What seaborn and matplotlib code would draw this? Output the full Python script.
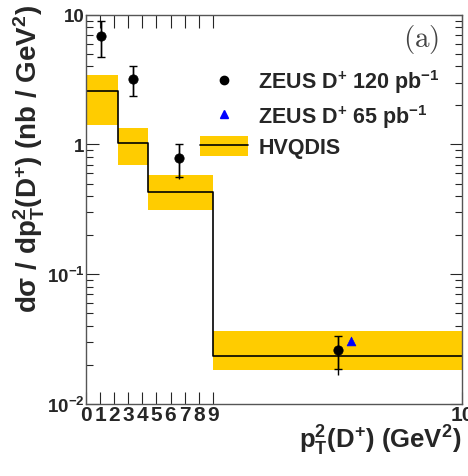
import matplotlib
matplotlib.use("Agg")
import matplotlib.pyplot as plt
from matplotlib.lines import Line2D
from matplotlib.patches import Patch
import seaborn as sns
import numpy as np

# bin edges (axis units: 0-9 linear, last edge drawn at the "10" tick)
bin_edges = [0, 2.25, 4.4, 9, 26.7]
x_ticks = [0, 1, 2, 3, 4, 5, 6, 7, 8, 9, 26.7]
x_ticklabels = ["0", "1", "2", "3", "4", "5", "6", "7", "8", "9", "10"]

# HVQDIS prediction
hvq_val = [2.58, 1.03, 0.431, 0.0236]
hvq_lo = [1.41, 0.70, 0.31, 0.0183]
hvq_hi = [3.43, 1.33, 0.58, 0.0362]

# ZEUS D+ 120 pb-1 (stat errors with caps, total errors without)
zeus_x = [1.06, 3.3, 6.6, 17.9]
zeus_y = [6.8, 3.2, 0.78, 0.0261]
zeus_lo = [4.7, 2.36, 0.56, 0.0186]
zeus_hi = [9.0, 4.05, 1.0, 0.0337]
zeus_tot_lo = [4.7, 2.36, 0.54, 0.0168]
zeus_tot_hi = [9.0, 4.05, 1.0, 0.0337]

# ZEUS D+ 65 pb-1
old_x = [18.8]
old_y = [0.0305]

sns.set_style("ticks")
plt.rcParams["font.family"] = ["Liberation Sans", "DejaVu Sans"]
plt.rcParams["font.weight"] = "bold"
plt.rcParams["mathtext.fontset"] = "custom"
plt.rcParams["mathtext.rm"] = "Liberation Sans:bold"
plt.rcParams["mathtext.bf"] = "Liberation Sans:bold"
plt.rcParams["mathtext.it"] = "Liberation Sans:bold"
plt.rcParams["mathtext.default"] = "bf"

fig = plt.figure(figsize=(4.68, 4.77), dpi=100)
ax = fig.add_axes([0.184, 0.151, 0.803, 0.816])

gold = "#ffcc00"
ax.fill_between(bin_edges, hvq_lo + [hvq_lo[-1]], hvq_hi + [hvq_hi[-1]],
                step="post", color=gold, lw=0, zorder=1)
sns.lineplot(x=bin_edges, y=hvq_val + [hvq_val[-1]], drawstyle="steps-post",
             color="black", lw=1.2, ax=ax, zorder=2)

zy = np.array(zeus_y)
ax.errorbar(zeus_x, zeus_y,
            yerr=[zy - np.array(zeus_tot_lo), np.array(zeus_tot_hi) - zy],
            fmt="none", ecolor="black", elinewidth=1, capsize=0, zorder=3)
ax.errorbar(zeus_x, zeus_y,
            yerr=[zy - np.array(zeus_lo), np.array(zeus_hi) - zy],
            fmt="none", ecolor="black", elinewidth=1, capsize=3, zorder=3)
sns.scatterplot(x=zeus_x, y=zeus_y, color="black", s=45, marker="o",
                edgecolor="black", ax=ax, zorder=4)
sns.scatterplot(x=old_x, y=old_y, color="blue", s=40, marker="^",
                edgecolor="blue", ax=ax, zorder=4)

ax.set_yscale("log")
ax.set_ylim(0.01, 10)
ax.set_xlim(0, 26.7)
ax.set_xticks(x_ticks)
ax.set_xticklabels(x_ticklabels)
ax.set_yticks([0.01, 0.1, 1, 10])
ax.set_yticklabels([r"$10^{-2}$", r"$10^{-1}$", "1", "10"])
ax.tick_params(which="both", direction="in", top=True, right=True, pad=1)
ax.tick_params(axis="x", labelsize=15)
ax.tick_params(axis="y", labelsize=13.5)
ax.tick_params(which="major", length=9, width=0.8)
ax.tick_params(which="minor", length=5, width=0.8)
ax.tick_params(axis="x", which="minor", bottom=False, top=False)
for s in ax.spines.values():
    s.set_linewidth(1.0)
    s.set_color("#555555")

handles = [
    Line2D([], [], marker="o", color="black", ls="none", markersize=6),
    Line2D([], [], marker="^", color="blue", ls="none", markersize=6),
    (Patch(facecolor=gold, edgecolor="none"), Line2D([], [], color="black", lw=1.2)),
]
labels = [r"ZEUS D$^{+}$ 120 pb$^{-1}$", r"ZEUS D$^{+}$ 65 pb$^{-1}$", "HVQDIS"]
ax.legend(handles, labels, loc="upper left", bbox_to_anchor=(0.252, 0.914),
          frameon=False, fontsize=15.5, handlelength=2.2, handleheight=1.0,
          labelspacing=0.3, handletextpad=0.5)

ax.text(0.941, 0.938, r"$\mathrm{(a)}$", transform=ax.transAxes, ha="right",
        va="center", fontsize=21, math_fontfamily="cm", color="#444444")

fig.text(0.062, 0.99, r"d$\sigma$ / dp$_{T}^{2}$(D$^{+}$) (nb / GeV$^{2}$)",
         rotation=90, ha="center", va="top", fontsize=20)
fig.text(0.985, 0.075, r"p$_{T}^{2}$(D$^{+}$) (GeV$^{2}$)",
         ha="right", va="center", fontsize=18.5)

fig.savefig("out.png", dpi=100)
